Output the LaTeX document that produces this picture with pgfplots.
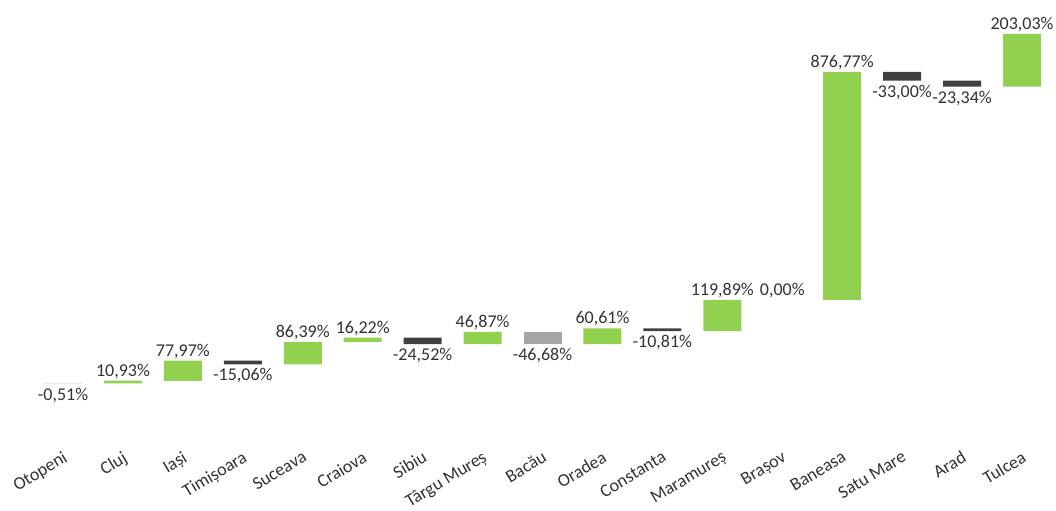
\documentclass[border=0pt]{standalone}
\usepackage{pgfplots}
\pgfplotsset{compat=1.18}
\usepackage{fontspec}
\setmainfont{Carlito}
\definecolor{grn}{HTML}{92D050}
\definecolor{dk}{HTML}{404040}
\definecolor{lg}{HTML}{A6A6A6}
\definecolor{txt}{HTML}{333333}
\pgfplotsset{
  common/.style={
    scale only axis, width=1056pt, height=450pt,
    xmin=-1.051, xmax=16.567, ymin=-255.8, ymax=1475,
    clip=false,
    axis line style={draw=none}, tick style={draw=none},
    ytick=\empty,
  },
}
\begin{document}
\begin{tikzpicture}
\begin{axis}[
  common,
  ybar stacked, bar width=38pt,
  xtick={0,...,16},
  xticklabels={Otopeni,Cluj,Iași,Timișoara,Suceava,Craiova,Sibiu,Târgu Mureș,Bacău,Oradea,Constanta,Maramureș,Brașov,Baneasa,Satu Mare,Arad,Tulcea},
  xticklabel style={xshift=-1pt, rotate=31, anchor=north east, inner sep=0pt, font=\fontsize{18}{21}\selectfont, text=txt},
]
% invisible base (bottom of each bar)
\addplot[draw=none, fill=none] coordinates {
(0,-0.51) (1,-0.51) (2,10.42) (3,73.33) (4,73.33) (5,159.72) (6,151.42) (7,151.42) (8,151.61)
(9,151.61) (10,201.41) (11,201.41) (12,321.30) (13,321.30) (14,1165.07) (15,1141.73) (16,1141.73)
};
% rises
\addplot[draw=none, fill=grn] coordinates {
(0,0) (1,10.93) (2,77.97) (3,0) (4,86.39) (5,16.22) (6,0) (7,46.87) (8,0)
(9,60.61) (10,0) (11,119.89) (12,0) (13,876.77) (14,0) (15,0) (16,203.03)
};
% falls
\addplot[draw=none, fill=dk] coordinates {
(0,0.51) (1,0) (2,0) (3,15.06) (4,0) (5,0) (6,24.52) (7,0) (8,0)
(9,0) (10,10.81) (11,0) (12,0) (13,0) (14,33.00) (15,23.34) (16,0)
};
% Bacau (grey)
\addplot[draw=none, fill=lg] coordinates {
(0,0) (1,0) (2,0) (3,0) (4,0) (5,0) (6,0) (7,0) (8,46.68)
(9,0) (10,0) (11,0) (12,0) (13,0) (14,0) (15,0) (16,0)
};
\path (axis cs:-1.051,-486.5) rectangle (axis cs:16.567,1475);
\end{axis}
% value labels (overlay axis, no stacking)
\begin{axis}[
  common, xtick=\empty,
  nodes near coords, point meta=explicit symbolic,
  every node near coord/.append style={font=\fontsize{18}{21}\selectfont, text=txt, inner sep=1pt},
]
\addplot[only marks, mark size=0pt, every node near coord/.append style={anchor=south, yshift=1pt}] coordinates {
(1,10.42) [{10,93\%}]
(2,88.39) [{77,97\%}]
(4,159.72) [{86,39\%}]
(5,175.94) [{16,22\%}]
(7,198.29) [{46,87\%}]
(9,212.22) [{60,61\%}]
(11,321.30) [{119,89\%}]
(12,321.30) [{0,00\%}]
(13,1198.07) [{876,77\%}]
(16,1344.76) [{203,03\%}]
};
\addplot[only marks, mark size=0pt, every node near coord/.append style={anchor=north, yshift=-3pt}] coordinates {
(0,-0.51) [{-0,51\%}]
(3,73.33) [{-15,06\%}]
(6,151.42) [{-24,52\%}]
(8,151.61) [{-46,68\%}]
(10,201.41) [{-10,81\%}]
(14,1165.07) [{-33,00\%}]
(15,1141.73) [{-23,34\%}]
};
\end{axis}
\end{tikzpicture}
\end{document}
